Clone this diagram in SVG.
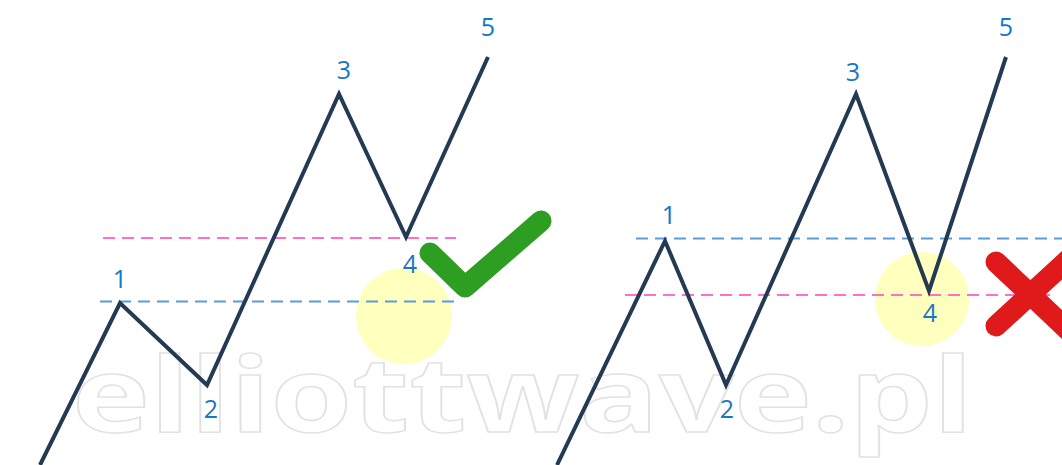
<svg xmlns="http://www.w3.org/2000/svg" width="1062" height="465" viewBox="0 0 1062 465">
<style>
.wave{fill:none;stroke:#243a52;stroke-width:4;stroke-linejoin:miter;stroke-linecap:butt}
.lbl{font-family:"Open Sans","Noto Sans","Liberation Sans",sans-serif;font-size:25px;fill:#1677c6;text-anchor:middle}
.pink{stroke:#ff6fc8;stroke-width:2;stroke-dasharray:12 7;fill:none}
.blue{stroke:#5b9bd8;stroke-width:2;stroke-dasharray:12 7;fill:none}
.zone{fill:#ffffa8;opacity:0.75}
.wm{font-family:"Open Sans","Noto Sans","Liberation Sans",sans-serif;font-weight:bold;font-size:104px;fill:none;stroke:#e2e2e2;stroke-width:1.5}
</style>
<rect width="1062" height="465" fill="#ffffff"/>
<g id="zones">
<circle class="zone" cx="404" cy="316" r="48"/>
<circle class="zone" cx="922" cy="299" r="47"/>
</g>
<g id="levels">
<line class="pink" x1="103" y1="238" x2="456" y2="238"/>
<line class="blue" x1="100" y1="301.5" x2="456" y2="301.5"/>
<line class="blue" x1="636" y1="238.5" x2="1062" y2="238.5"/>
<line class="pink" x1="625" y1="295" x2="1050" y2="295"/>
</g>
<g id="watermark">
<text class="wm" x="72" y="432" textLength="901" lengthAdjust="spacingAndGlyphs">elliottwave.pl</text>
</g>
<g id="connectors">
<polyline class="wave" points="40,465 120,303 207,385 339,94 406,237 488,57"/>
<polyline class="wave" points="557,465 665,241 726,385 856,94 929,291 1006,57"/>
</g>
<g id="labels-left">
<text class="lbl" x="120" y="288">1</text>
<text class="lbl" x="211" y="418">2</text>
<text class="lbl" x="344" y="79">3</text>
<text class="lbl" x="410" y="273">4</text>
<text class="lbl" x="488" y="36">5</text>
</g>
<g id="labels-right">
<text class="lbl" x="669" y="224">1</text>
<text class="lbl" x="727" y="418">2</text>
<text class="lbl" x="853" y="81">3</text>
<text class="lbl" x="930" y="322">4</text>
<text class="lbl" x="1006" y="36">5</text>
</g>
<g id="check">
<polyline points="430,253 465,287 541,221" fill="none" stroke="#2e9e22" stroke-width="21" stroke-linecap="round" stroke-linejoin="round"/>
</g>
<g id="cross">
<line x1="996" y1="262" x2="1070" y2="332" stroke="#e01a1a" stroke-width="21" stroke-linecap="round"/>
<line x1="996" y1="326" x2="1070" y2="258" stroke="#e01a1a" stroke-width="21" stroke-linecap="round"/>
</g>
</svg>
